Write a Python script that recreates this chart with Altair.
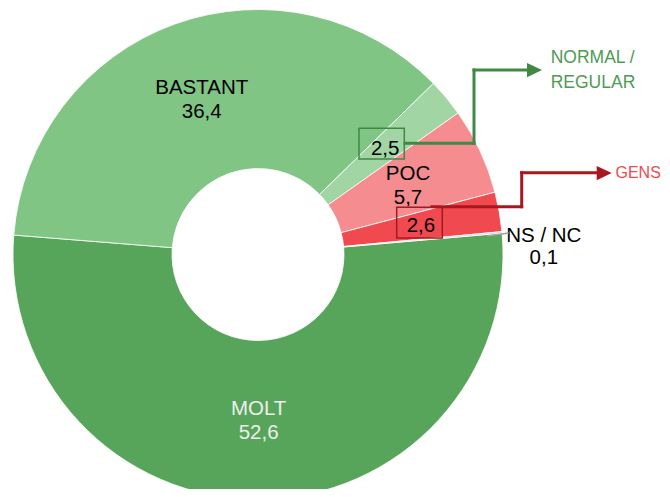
import math
import altair as alt
import pandas as pd

# ---- data ----
categories = ["MOLT", "BASTANT", "NORMAL / REGULAR", "POC", "GENS", "NS / NC"]
values = [52.6, 36.4, 2.5, 5.7, 2.6, 0.1]
inner_names = ["MOLT", "BASTANT", "", "POC", "", ""]
slice_colors = ["#57a55a", "#80c584", "#a1d5a3", "#f58c90", "#f04950", "#c8c8c8"]


def fmt(v):
    return f"{v:.1f}".replace(".", ",")


inner_labels = [(n + "\n" + fmt(v)) if n else fmt(v) for n, v in zip(inner_names, values)]
inner_labels[5] = ""
outer_labels = ["", "", "", "", "", categories[5] + "\n" + fmt(values[5])]
two_line = [("\n" in s) for s in inner_labels]

df = pd.DataFrame({
    "cat": categories,
    "value": values,
    "order": list(range(len(categories))),
    "inner": inner_labels,
    "outer": outer_labels,
    "two": two_line,
})
one = pd.DataFrame({"a": [0]})

total = sum(values)
start = math.radians(85)
CX, CY = 250, 246.5
FONT = "Liberation Sans"

theta = alt.Theta("value:Q", stack=True,
                  scale=alt.Scale(domain=[0, total], range=[start, start + 2 * math.pi]))

base = alt.Chart(df).encode(theta=theta, order=alt.Order("order:Q"),
                            x=alt.value(CX), y=alt.value(CY))

arcs = base.mark_arc(radius=245, radius2=86, stroke="white", strokeWidth=0.8).encode(
    color=alt.Color("cat:N", scale=alt.Scale(domain=categories, range=slice_colors), legend=None)
)

txt_color = alt.condition(alt.datum.cat == "MOLT", alt.value("#eeeeee"), alt.value("black"))

inner_two = base.mark_text(radius=165.5, dy=-11, font=FONT, fontSize=20.5, lineBreak="\n",
                           lineHeight=24).encode(
    text=alt.condition(alt.datum.two, alt.Text("inner:N"), alt.value("")),
    color=txt_color,
)
inner_one = base.mark_text(radius=165.5, font=FONT, fontSize=20.5, color="black").encode(
    text=alt.condition(alt.datum.two, alt.value(""), alt.Text("inner:N")),
)

outer_text = base.mark_text(radius=287, dy=7, font=FONT, fontSize=20.5, lineBreak="\n",
                            lineHeight=22, color="black").encode(text="outer:N")

GREEN = "#3e8944"
RED = "#a8171e"


def box(x, x2, y, y2, color):
    return alt.Chart(one).mark_rect(filled=False, stroke=color, strokeWidth=1.5).encode(
        x=alt.value(x), x2=alt.value(x2), y=alt.value(y), y2=alt.value(y2))


def seg(x, y, x2, y2, color, w=3):
    return alt.Chart(one).mark_rule(color=color, strokeWidth=w, strokeCap="square").encode(
        x=alt.value(x), y=alt.value(y), x2=alt.value(x2), y2=alt.value(y2))


def head(x, y, color):
    return alt.Chart(one).mark_point(shape="M-1,-0.95L1,0L-1,0.95Z", filled=True, size=225,
                                     color=color, opacity=1).encode(
        x=alt.value(x), y=alt.value(y))


def label(x, y, txt, color, size=17.5):
    return alt.Chart(one).mark_text(align="left", baseline="middle", font=FONT,
                                    fontSize=size, color=color).encode(
        x=alt.value(x), y=alt.value(y), text=alt.value(txt))


annotations = [
    box(351, 396.3, 120.3, 151, GREEN),
    box(388.7, 434.3, 199.3, 230, "#a01c22"),
    seg(397, 135.3, 466, 135.3, GREEN),
    seg(466, 135.3, 466, 62, GREEN),
    seg(466, 62, 519, 62, GREEN),
    head(526.5, 62, GREEN),
    seg(424, 198.7, 513.7, 198.7, RED),
    seg(513.7, 198.7, 513.7, 164.7, RED),
    seg(513.7, 164.7, 589, 164.7, RED),
    head(596.2, 165, RED),
    seg(480, 228, 500, 225, "#a0a0a0", w=1.5),
    label(542.7, 49.5, "NORMAL /", "#4e9b53"),
    label(542.7, 75, "REGULAR", "#4e9b53"),
    label(607.5, 165.3, categories[4], "#f04a52", size=16),
]

chart = alt.layer(arcs, inner_two, inner_one, outer_text, *annotations).properties(
    width=654, height=481, padding=0, autosize="none"
).configure_view(stroke=None)

chart.save("out.html", embed_options={"renderer": "svg", "actions": False})
